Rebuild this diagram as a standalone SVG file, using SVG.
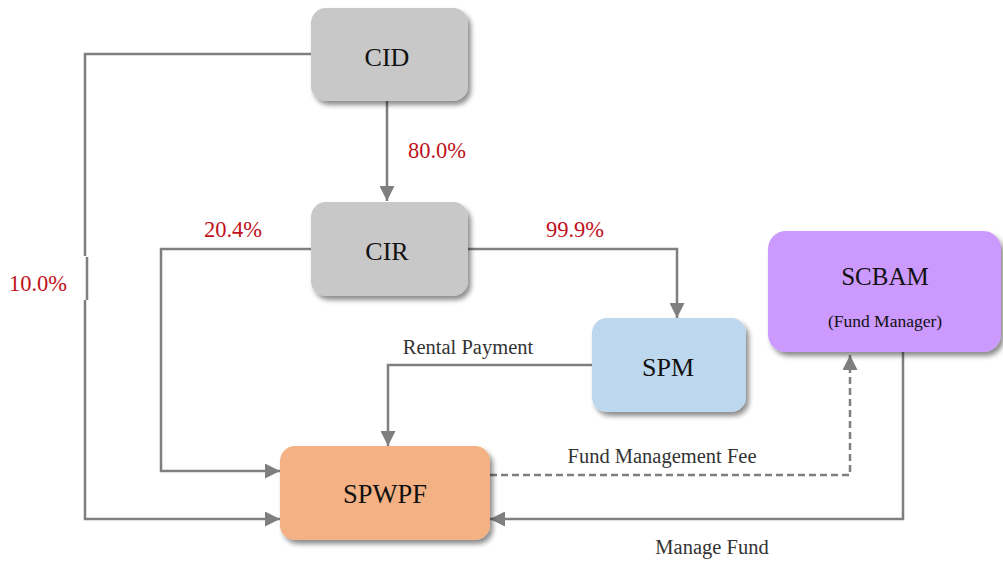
<svg xmlns="http://www.w3.org/2000/svg" width="1003" height="561" viewBox="0 0 1003 561">
  <defs>
    <filter id="shadow" x="-10%" y="-10%" width="125%" height="130%">
      <feDropShadow dx="3" dy="4" stdDeviation="2.5" flood-color="#000" flood-opacity="0.45"/>
    </filter>
    <marker id="arrowBig" viewBox="0 0 10 10" refX="10" refY="5" markerWidth="15" markerHeight="15" markerUnits="userSpaceOnUse" orient="auto">
      <path d="M0,0 L10,5 L0,10 z" fill="#7f7f7f"/>
    </marker>
  </defs>
  <style>
    .node { filter: url(#shadow); }
    .lbl { font-family: "Liberation Serif", "Times New Roman", serif; fill: #111; text-anchor: middle; }
    .pct { font-family: "Liberation Serif", "Times New Roman", serif; font-size: 22.5px; fill: #c0121b; text-anchor: middle; }
    .note { font-family: "Liberation Serif", "Times New Roman", serif; font-size: 20.5px; fill: #333; text-anchor: middle; }
    .wire { fill: none; stroke: #7f7f7f; stroke-width: 2.5; }
    .dash { stroke-dasharray: 7 4; }
  </style>

  <rect width="1003" height="561" fill="#fff"/>

  <!-- connectors -->
  <g id="connectors">
    <!-- CID -> CIR -->
    <path class="wire" d="M387,101 V201" marker-end="url(#arrowBig)"/>
    <!-- CID -> SPWPF (10.0%) with line hop -->
    <path class="wire" d="M311,54 H85 V256"/>
    <path class="wire" d="M87,257 V300" stroke="#8c8c8c"/>
    <path class="wire" d="M85,300 V519 H280" marker-end="url(#arrowBig)"/>
    <!-- CIR -> SPWPF (20.4%) -->
    <path class="wire" d="M311,249 H161 V471 H280" marker-end="url(#arrowBig)"/>
    <!-- CIR -> SPM (99.9%) -->
    <path class="wire" d="M468,249 H677 V318" marker-end="url(#arrowBig)"/>
    <!-- SPM -> SPWPF rental -->
    <path class="wire" d="M592,365 H388 V446" marker-end="url(#arrowBig)"/>
    <!-- SPWPF -> SCBAM fee -->
    <path class="wire dash" d="M490,475 H850 V355" marker-end="url(#arrowBig)"/>
    <!-- SCBAM -> SPWPF manage -->
    <path class="wire" d="M903,352 V519 H490" marker-end="url(#arrowBig)"/>
  </g>

  <!-- connector labels -->
  <g id="labels">
    <text class="pct" x="437" y="158">80.0%</text>
    <text class="pct" x="233" y="237">20.4%</text>
    <text class="pct" x="575" y="237">99.9%</text>
    <text class="pct" x="38" y="291">10.0%</text>
    <text class="note" x="468" y="354">Rental Payment</text>
    <text class="note" x="662" y="463">Fund Management Fee</text>
    <text class="note" x="712" y="554">Manage Fund</text>
  </g>

  <g id="CID">
    <rect class="node" x="311" y="8" width="157" height="93" rx="15" fill="#c8c8c8"/>
    <text class="lbl" x="387" y="66" font-size="26">CID</text>
  </g>
  <g id="CIR">
    <rect class="node" x="311" y="202" width="157" height="94" rx="15" fill="#c8c8c8"/>
    <text class="lbl" x="387" y="260" font-size="26">CIR</text>
  </g>
  <g id="SPM">
    <rect class="node" x="592" y="318" width="154" height="94" rx="15" fill="#bdd7ee"/>
    <text class="lbl" x="668" y="376" font-size="26">SPM</text>
  </g>
  <g id="SCBAM">
    <rect class="node" x="768" y="231" width="233" height="121" rx="18" fill="#cc99ff"/>
    <text class="lbl" x="885" y="285" font-size="25">SCBAM</text>
    <text class="lbl" x="885" y="327" font-size="17.5">(Fund Manager)</text>
  </g>
  <g id="SPWPF">
    <rect class="node" x="280" y="446" width="210" height="94" rx="15" fill="#f4b183"/>
    <text class="lbl" x="385" y="503" font-size="26.5">SPWPF</text>
  </g>
</svg>
